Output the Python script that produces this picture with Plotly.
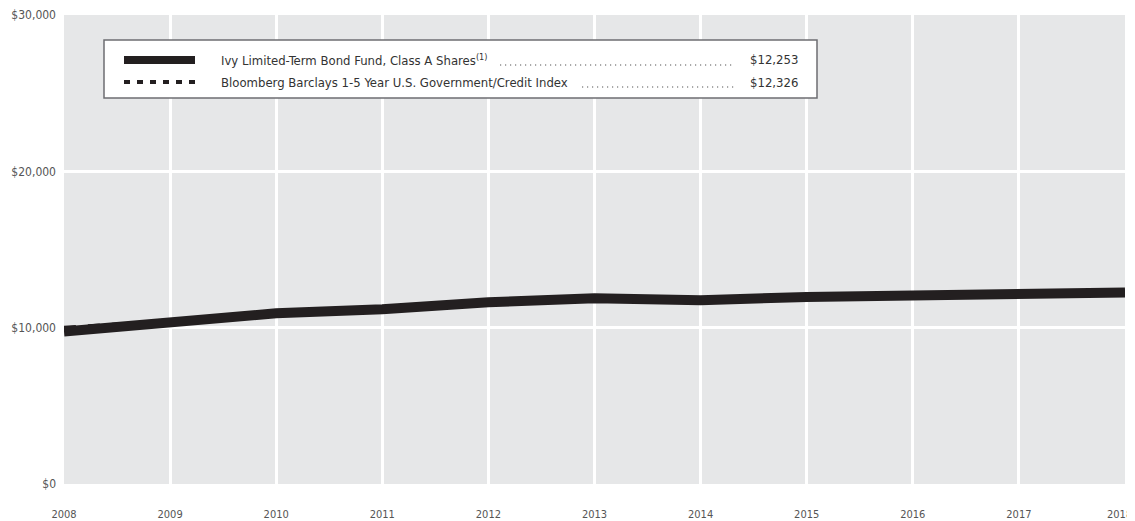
import plotly.graph_objects as go

years = [2008, 2009, 2010, 2011, 2012, 2013, 2014, 2015, 2016, 2017, 2018]
fund_values = [9750, 10330, 10920, 11180, 11620, 11880, 11760, 11960, 12080, 12210, 12253]
index_values = [10000, 10420, 10960, 11220, 11650, 11900, 11800, 11990, 12110, 12250, 12326]
fund_name = "Ivy Limited-Term Bond Fund, Class A Shares<sup>(1)</sup>"
index_name = "Bloomberg Barclays 1-5 Year U.S. Government/Credit Index"
y_ticks = [0, 10000, 20000, 30000]
y_tick_labels = ["$0", "$10,000", "$20,000", "$30,000"]
x_tick_labels = [str(y) for y in years]

# page body has an 8px margin; figure is sized so it fills the rest of the window
OFF = 8
W, H = 1135 - OFF, 521 - OFF
# plot area in screen pixels: x 64..1125, y 15..484
SL, SR, ST, SB = 64, 1125, 15, 484
L, R, T, B = SL - OFF, (1135 - SR), ST - OFF, (521 - SB)
PW, PH = SR - SL, SB - ST
FONT = "Liberation Sans Narrow, DejaVu Sans Condensed, Arial Narrow, sans-serif"
INK = "#231f20"

def px(x):
    return (x - SL) / PW

def py(y):
    return (SB - y) / PH

fig = go.Figure()
fig.add_trace(go.Scatter(x=years, y=index_values, mode="lines", name="index",
                         line=dict(color=INK, width=4, dash="dash")))
fig.add_trace(go.Scatter(x=years, y=fund_values, mode="lines", name="fund",
                         line=dict(color=INK, width=10)))

shapes = [
    dict(type="rect", xref="paper", yref="paper", x0=px(104), x1=px(817), y0=py(98), y1=py(40),
         fillcolor="white", line=dict(color="#6d6e71", width=1.5), layer="above"),
    dict(type="line", xref="paper", yref="paper", x0=px(124), x1=px(195), y0=py(60), y1=py(60),
         line=dict(color=INK, width=8), layer="above"),
    dict(type="line", xref="paper", yref="paper", x0=px(124), x1=px(195), y0=py(82), y1=py(82),
         line=dict(color=INK, width=4, dash="6px,7px"), layer="above"),
    dict(type="line", xref="paper", yref="paper", x0=px(500), x1=px(735), y0=py(65), y1=py(65),
         line=dict(color="#555", width=1.2, dash="1.2px,3.8px"), layer="above"),
    dict(type="line", xref="paper", yref="paper", x0=px(582), x1=px(735), y0=py(87), y1=py(87),
         line=dict(color="#555", width=1.2, dash="1.2px,3.8px"), layer="above"),
]

annotations = [
    dict(xref="paper", yref="paper", x=px(219), y=py(60), text=fund_name, showarrow=False,
         xanchor="left", yanchor="middle", font=dict(family=FONT, size=13, color="#333")),
    dict(xref="paper", yref="paper", x=px(219), y=py(82), text=index_name, showarrow=False,
         xanchor="left", yanchor="middle", font=dict(family=FONT, size=13, color="#333")),
    dict(xref="paper", yref="paper", x=px(800), y=py(60), text=f"${fund_values[-1]:,}", showarrow=False,
         xanchor="right", yanchor="middle", font=dict(family=FONT, size=13, color="#333")),
    dict(xref="paper", yref="paper", x=px(800), y=py(82), text=f"${index_values[-1]:,}", showarrow=False,
         xanchor="right", yanchor="middle", font=dict(family=FONT, size=13, color="#333")),
    # last year label, kept inside the window edge
    dict(xref="paper", yref="paper", x=px(1134), y=py(514), text=x_tick_labels[-1], showarrow=False,
         xanchor="right", yanchor="middle", xshift=0,
         font=dict(family=FONT, size=11, color="#555")),
]

fig.update_layout(
    width=W, height=H,
    margin=dict(l=L, r=R, t=T, b=B, autoexpand=False),
    paper_bgcolor="white",
    plot_bgcolor="#e6e7e8",
    showlegend=False,
    shapes=shapes,
    annotations=annotations,
    font=dict(family=FONT, size=11, color="#555"),
    xaxis=dict(range=[2008, 2018], tickvals=years[:-1], ticktext=x_tick_labels[:-1],
               showgrid=True, gridcolor="white", gridwidth=3, zeroline=False,
               showline=False, ticks="", ticklabelstandoff=22, automargin=False,
               ticklabeloverflow="allow",
               tickfont=dict(family=FONT, size=11, color="#555")),
    yaxis=dict(range=[0, 30000], tickvals=y_ticks, ticktext=y_tick_labels,
               showgrid=True, gridcolor="white", gridwidth=3, zeroline=False,
               showline=False, ticks="", ticklabelstandoff=7, automargin=False,
               ticklabeloverflow="allow",
               tickfont=dict(family=FONT, size=12, color="#555")),
)

fig.write_html("out.html")
